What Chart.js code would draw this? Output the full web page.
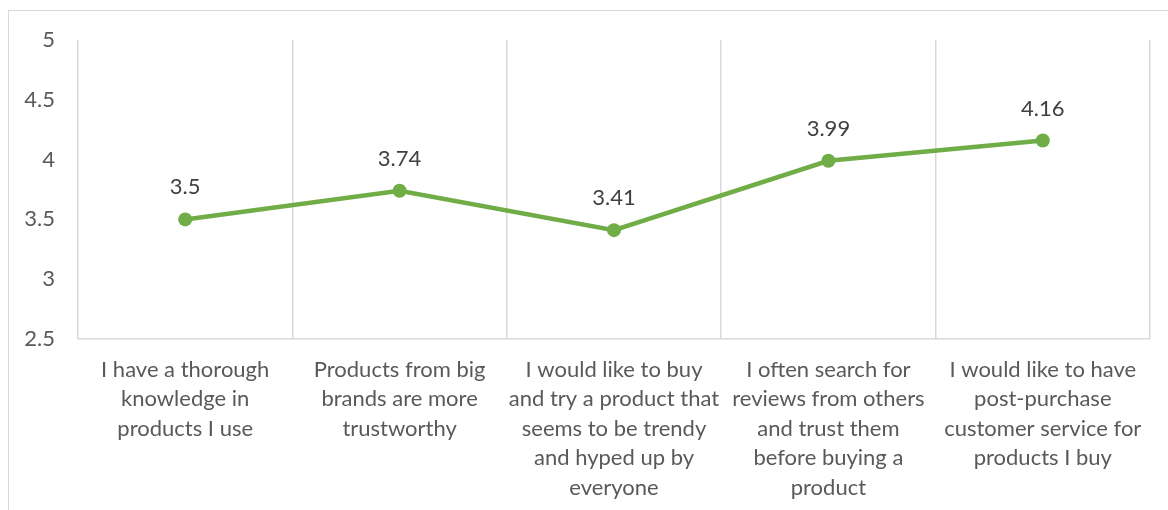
<!DOCTYPE html>
<html>
<head>
<meta charset="utf-8">
<script src="https://cdn.jsdelivr.net/npm/chart.js@4.4.1/dist/chart.umd.min.js"></script>
<style>
  html, body { margin: 0; padding: 0; background: #fff; }
  #wrap { position: relative; width: 1168px; height: 510px; overflow: hidden; }
  #frame { position: absolute; left: 8px; top: 10px; width: 1200px; height: 600px; border: 1px solid #d9d9d9; box-sizing: border-box; }
  canvas { position: absolute; left: 0; top: 0; }
</style>
</head>
<body>
<div id="wrap">
  <div id="frame"></div>
  <canvas id="chart" width="1168" height="510"></canvas>
</div>
<script>
const categories = [
    ['I have a thorough', 'knowledge in', 'products I use'],
    ['Products from big', 'brands are more', 'trustworthy'],
    ['I would like to buy', 'and try a product that', 'seems to be trendy', 'and hyped up by', 'everyone'],
    ['I often search for', 'reviews from others', 'and trust them', 'before buying a', 'product'],
    ['I would like to have', 'post-purchase', 'customer service for', 'products I buy']
];
const scores = [3.5, 3.74, 3.41, 3.99, 4.16];
const yTicks = { min: 2.5, max: 5, step: 0.5 };

const green = '#70AD47';
const fontFamily = 'Lato, "Open Sans", sans-serif';

// value labels above each point
const valueLabels = {
    id: 'valueLabels',
    afterDatasetsDraw(chart) {
        const ctx = chart.ctx;
        const meta = chart.getDatasetMeta(0);
        ctx.save();
        ctx.font = '22px ' + fontFamily;
        ctx.fillStyle = '#404040';
        ctx.textAlign = 'center';
        ctx.textBaseline = 'middle';
        meta.data.forEach((pt, i) => {
            ctx.fillText(String(scores[i]), pt.x, pt.y - 32);
        });
        ctx.restore();
    }
};

const ctx = document.getElementById('chart').getContext('2d');
new Chart(ctx, {
    type: 'line',
    data: {
        labels: categories,
        datasets: [{
            data: scores,
            borderColor: green,
            backgroundColor: green,
            borderWidth: 4.5,
            pointRadius: 7,
            pointBackgroundColor: green,
            pointBorderColor: green,
            pointBorderWidth: 0,
            tension: 0
        }]
    },
    options: {
        responsive: false,
        animation: false,
        layout: { padding: { top: 40, right: 18, left: 0, bottom: 0 } },
        plugins: {
            legend: { display: false },
            tooltip: { enabled: false }
        },
        scales: {
            x: {
                offset: true,
                grid: {
                    offset: true,
                    color: '#d9d9d9',
                    lineWidth: 1.5,
                    drawTicks: false
                },
                border: { display: true, color: '#d9d9d9', width: 1.5 },
                ticks: {
                    color: '#595959',
                    font: { family: fontFamily, size: 22, lineHeight: '29.5px' },
                    padding: 16,
                    maxRotation: 0,
                    autoSkip: false
                },
                afterFit(scale) { scale.height = 171; }
            },
            y: {
                min: yTicks.min,
                max: yTicks.max,
                grid: { display: false, drawTicks: false },
                border: { display: false },
                ticks: {
                    stepSize: yTicks.step,
                    color: '#595959',
                    font: { family: fontFamily, size: 22 },
                    padding: 23,
                    callback: v => String(v)
                },
                afterFit(scale) { scale.width = 78; }
            }
        }
    },
    plugins: [valueLabels]
});
</script>
</body>
</html>
